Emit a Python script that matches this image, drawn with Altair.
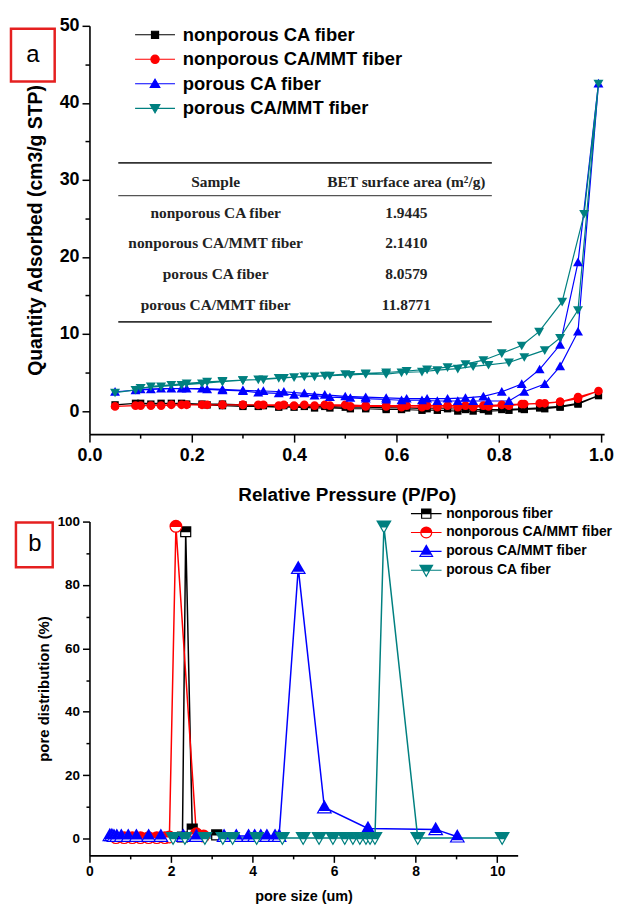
import altair as alt
import pandas as pd

# ---------------- Panel a : N2 isotherms ----------------
series_a = ["nonporous CA fiber", "nonporous CA/MMT fiber", "porous CA fiber", "porous CA/MMT fiber"]
colors_a = ["#000000", "#ff0000", "#0000ff", "#008080"]

p_ads = [0.05, 0.09, 0.12, 0.16, 0.19, 0.23, 0.26, 0.30, 0.33, 0.37, 0.40, 0.44, 0.47, 0.51,
         0.54, 0.58, 0.61, 0.65, 0.68, 0.72, 0.75, 0.78, 0.82, 0.85, 0.89, 0.92, 0.955, 0.995]
p_des = [0.955, 0.92, 0.88, 0.845, 0.806, 0.77, 0.735, 0.70, 0.66, 0.62, 0.58, 0.54, 0.50,
         0.46, 0.42, 0.38, 0.34, 0.30, 0.26, 0.22, 0.18, 0.14, 0.10]
p_des_teal = [0.967, 0.924, 0.879, 0.845, 0.806, 0.77, 0.735, 0.70, 0.66, 0.62, 0.58, 0.54, 0.50,
              0.46, 0.42, 0.38, 0.34, 0.30, 0.26, 0.22, 0.18, 0.14, 0.10]

q_black_ads = [0.8, 1.0, 0.9, 1.0, 0.9, 0.8, 0.7, 0.6, 0.6, 0.5, 0.5, 0.4, 0.4, 0.3, 0.3, 0.2, 0.2,
               0.1, 0.1, 0.0, 0.0, 0.0, 0.1, 0.2, 0.3, 0.5, 0.9, 2.0]
q_black_des = [1.0, 0.6, 0.4, 0.3, 0.2, 0.2, 0.2, 0.3, 0.3, 0.4, 0.4, 0.5, 0.5, 0.6, 0.6, 0.7, 0.7,
               0.8, 0.9, 0.9, 1.0, 1.0, 1.0]
q_red_ads = [0.6, 0.7, 0.7, 0.8, 0.8, 0.8, 0.8, 0.8, 0.8, 0.7, 0.7, 0.7, 0.7, 0.6, 0.6, 0.6, 0.5,
             0.5, 0.5, 0.5, 0.5, 0.6, 0.7, 0.9, 1.0, 1.2, 1.6, 2.6]
q_red_des = [1.8, 1.2, 1.0, 0.9, 0.8, 0.7, 0.7, 0.7, 0.7, 0.7, 0.7, 0.7, 0.8, 0.8, 0.8, 0.8, 0.8,
             0.8, 0.8, 0.8, 0.8, 0.7, 0.7]
q_blue_ads = [2.5, 2.7, 2.8, 2.9, 2.9, 2.8, 2.7, 2.6, 2.4, 2.3, 2.1, 2.0, 1.8, 1.7, 1.6, 1.5, 1.4,
              1.4, 1.3, 1.3, 1.3, 1.3, 1.3, 2.5, 3.5, 5.8, 10.3, 42.5]
q_blue_des = [19.3, 8.6, 5.4, 3.5, 2.5, 1.9, 1.7, 1.6, 1.6, 1.6, 1.7, 1.8, 1.9, 2.1, 2.3, 2.5, 2.6,
              2.7, 2.8, 2.9, 2.9, 2.9, 2.8]
q_teal_ads = [2.4, 2.75, 3.2, 3.4, 3.6, 3.8, 3.9, 4.0, 4.1, 4.3, 4.4, 4.5, 4.6, 4.7, 4.8, 4.8, 5.0,
              5.1, 5.3, 5.5, 5.8, 6.0, 6.3, 7.0, 7.9, 9.5, 13.1, 42.5]
q_teal_des = [25.6, 14.2, 10.3, 8.5, 7.5, 6.6, 6.1, 5.7, 5.4, 5.2, 5.0, 4.9, 4.8, 4.6, 4.5, 4.3,
              4.1, 4.0, 3.8, 3.6, 3.4, 3.2, 3.0]

table_col1 = ["Sample", "nonporous CA fiber", "nonporous CA/MMT fiber", "porous CA fiber", "porous CA/MMT fiber"]
table_col2 = ["BET surface area (m²/g)", "1.9445", "2.1410", "8.0579", "11.8771"]

# ---------------- Panel b : pore size distribution ----------------
series_b = ["nonporous fiber", "nonporous CA/MMT fiber", "porous CA/MMT fiber", "porous CA fiber"]
colors_b = ["#000000", "#ff0000", "#0000ff", "#008080"]

x_black = [2.28, 2.36, 2.52, 3.12]
y_black = [0.5, 96.8, 3.0, 1.2]
x_red = [0.65, 0.85, 1.05, 1.25, 1.45, 1.65, 1.85, 1.96, 2.12, 2.62, 2.8]
y_red = [0.3, 0.3, 0.3, 0.3, 0.3, 0.3, 0.3, 0.5, 98.5, 1.5, 0.8]
x_blue = [0.5, 0.55, 0.6, 0.67, 0.78, 0.95, 1.15, 1.45, 1.75, 2.3, 2.62, 3.3, 3.6, 3.9, 4.05, 4.2,
          4.35, 4.55, 4.65, 5.12, 5.76, 6.83, 8.49, 9.02]
y_blue = [1.0, 1.0, 0.8, 0.8, 0.8, 0.8, 0.8, 0.8, 0.8, 0.8, 0.8, 0.8, 0.8, 0.8, 0.8, 0.8,
          0.8, 0.8, 0.8, 85.3, 9.8, 3.2, 2.9, 0.6]
x_teal = [2.05, 2.34, 2.83, 3.27, 3.51, 4.1, 4.73, 5.24, 5.63, 5.97, 6.26, 6.46, 6.63, 6.78, 6.88,
          7.0, 7.22, 8.05, 10.12]
y_teal = [0.2, 0.2, 0.2, 0.2, 0.2, 0.2, 0.2, 0.2, 0.2, 0.2, 0.2, 0.2, 0.2, 0.2, 0.2,
          0.2, 98.5, 0.2, 0.2]

# ---------------- build tables ----------------
rows = []
for name, qa, pd_, qd in [
    (series_a[0], q_black_ads, p_des, q_black_des),
    (series_a[1], q_red_ads, p_des, q_red_des),
    (series_a[2], q_blue_ads, p_des, q_blue_des),
    (series_a[3], q_teal_ads, p_des_teal, q_teal_des),
]:
    i = 0
    for p, q in zip(p_ads, qa):
        rows.append({"series": name, "P": p, "Q": q, "idx": i}); i += 1
    for p, q in zip(pd_, qd):
        rows.append({"series": name, "P": p, "Q": q, "idx": i}); i += 1
df_a = pd.DataFrame(rows)

rows_b = []
for name, xs, ys in zip(series_b, [x_black, x_red, x_blue, x_teal], [y_black, y_red, y_blue, y_teal]):
    for i, (x, y) in enumerate(zip(xs, ys)):
        rows_b.append({"series": name, "size": x, "pct": y, "idx": i})
df_b = pd.DataFrame(rows_b)

df_tab = pd.DataFrame({"row": list(range(len(table_col1))), "c1": table_col1, "c2": table_col2})
df_leg_a = pd.DataFrame({"series": series_a})
df_leg_b = pd.DataFrame({"series": series_b})

# ---------------- marker paths ----------------
def fmt(v):
    return ("%.3f" % v).rstrip("0").rstrip(".")

sq = "M-0.85,-0.85H0.85V0.85H-0.85Z"
circ = "M-1,0A1,1 0 1,0 1,0A1,1 0 1,0 -1,0Z"
tri_up = "M0,-1.1L1.15,0.9H-1.15Z"
tri_dn = "M-1.15,-0.9H1.15L0,1.1Z"

def hatch(ys, halfw):
    return "".join("M%s,%sH%s" % (fmt(-halfw(y)), fmt(y), fmt(halfw(y))) for y in ys)

half_sq = sq + hatch([-0.85, -0.7, -0.55, -0.4, -0.25, -0.1, 0.0], lambda y: 0.85)
half_circ = circ + hatch([-0.9, -0.75, -0.6, -0.45, -0.3, -0.15, 0.0], lambda y: max(0.0, 1 - y * y) ** 0.5)
half_up = tri_up + hatch([-0.95, -0.8, -0.65, -0.5, -0.35, -0.2, -0.05, 0.1, 0.25, 0.4, 0.5],
                         lambda y: 1.15 * (y + 1.1) / 2.0)
half_dn = tri_dn + hatch([-0.9, -0.75, -0.6, -0.45, -0.3, -0.15, 0.0, 0.1], lambda y: 1.15 * (1.1 - y) / 2.0)

shapes_a = [sq, circ, tri_up, tri_dn]
legend_paths_a = ["M-4.8,0H4.8" + s for s in shapes_a]
shapes_b = [half_sq, half_circ, half_up, half_dn]
legend_paths_b = ["M-2.8,0H2.8" + s for s in shapes_b]

SANS = "Liberation Sans"
SERIF = "Liberation Serif"

def axis(values, label_test, minor_test, lsize, tsize, lpad, major, minor, title_pad):
    return alt.Axis(
        values=values, labelExpr="(%s) ? datum.label : ''" % label_test,
        tickSize={"condition": {"test": minor_test, "value": minor}, "value": major},
        grid=False, domainColor="black", domainWidth=1.6, tickColor="black", tickWidth=1.5,
        labelFont=SANS, labelFontWeight="bold", labelFontSize=lsize, labelColor="black",
        labelPadding=lpad, labelFlush=False, labelOverlap=False,
        titleFont=SANS, titleFontWeight="bold", titleFontSize=tsize, titleColor="black",
        titlePadding=title_pad,
    )

one = pd.DataFrame({"k": [0]})

# ---------------- panel a ----------------
xa_vals = [round(i * 0.1, 1) for i in range(11)]
ya_vals = list(range(0, 51, 5))
xa = alt.X("P:Q", title="Relative Pressure (P/Po)",
           scale=alt.Scale(domain=[0, 1.006], nice=False, zero=False),
           axis=axis(xa_vals, "round(datum.value*10) % 2 == 0", "round(datum.value*10) % 2 != 0",
                     18, 19, 5, 8, 4, 21))
ya = alt.Y("Q:Q", title="Quantity Adsorbed (cm3/g STP)",
           scale=alt.Scale(domain=[-3, 50], nice=False, zero=False),
           axis=axis(ya_vals, "datum.value % 10 == 0", "datum.value % 10 != 0",
                     18, 19.5, 3, 7.5, 4.5, 14))

lines_a = alt.Chart(df_a).mark_line(strokeWidth=1.2).encode(
    x=xa, y=ya,
    color=alt.Color("series:N", scale=alt.Scale(domain=series_a, range=colors_a), legend=None),
    detail="series:N", order="idx:Q")

pts_a = [
    alt.Chart(df_a).transform_filter(alt.datum.series == s).mark_point(
        shape=shp, size=76, filled=True, color=c, opacity=1, strokeWidth=0).encode(x=xa, y=ya)
    for s, c, shp in zip(series_a, colors_a, shapes_a)
]
data_a = alt.layer(lines_a, *pts_a)

# legend a (rows placed by a point scale)
leg_y_a = alt.Y("series:N", scale=alt.Scale(domain=series_a, range=[9, 83], padding=0), axis=None)
leg_sym_a = alt.Chart(df_leg_a).mark_point(filled=True, opacity=1, strokeWidth=1.2, size=70).encode(
    x=alt.value(66), y=leg_y_a,
    fill=alt.Fill("series:N", scale=alt.Scale(domain=series_a, range=colors_a), legend=None),
    stroke=alt.Stroke("series:N", scale=alt.Scale(domain=series_a, range=colors_a), legend=None),
    shape=alt.Shape("series:N", scale=alt.Scale(domain=series_a, range=legend_paths_a), legend=None))
leg_txt_a = alt.Chart(df_leg_a).mark_text(
    align="left", baseline="middle", font=SANS, fontSize=18.5, fontWeight="bold", color="black").encode(
    x=alt.value(94), y=leg_y_a, text="series:N")

row_y = alt.Y("row:O", scale=alt.Scale(range=[157, 281], padding=0), axis=None)
tab1 = alt.Chart(df_tab).mark_text(font=SERIF, fontWeight="bold", fontSize=15.5, color="#222222").encode(
    x=alt.value(127), y=row_y, text="c1:N")
tab2 = alt.Chart(df_tab).mark_text(font=SERIF, fontWeight="bold", fontSize=15.5, color="#222222").encode(
    x=alt.value(319), y=row_y, text="c2:N")
rule_top = alt.Chart(one).mark_rule(color="#333333", strokeWidth=1.8).encode(
    x=alt.value(29), x2=alt.value(405), y=alt.value(138))
rule_mid = alt.Chart(one).mark_rule(color="#555555", strokeWidth=1.2).encode(
    x=alt.value(29), x2=alt.value(405), y=alt.value(171))
rule_bot = alt.Chart(one).mark_rule(color="#333333", strokeWidth=1.8).encode(
    x=alt.value(29), x2=alt.value(405), y=alt.value(298))
box_a = alt.Chart(one).mark_rect(fill="white", stroke="#e52020", strokeWidth=2.5).encode(
    x=alt.value(-79), x2=alt.value(-35), y=alt.value(3), y2=alt.value(56))
lab_a = alt.Chart(one).mark_text(font=SANS, fontSize=24, color="black", baseline="middle").encode(
    x=alt.value(-57), y=alt.value(29), text=alt.value("a"))

panel_a = alt.layer(data_a, leg_sym_a, leg_txt_a, tab1, tab2, rule_top, rule_mid, rule_bot,
                    box_a, lab_a).resolve_scale(y="independent").properties(width=518, height=411)

# ---------------- panel b ----------------
xb_vals = list(range(0, 11))
yb_vals = list(range(0, 101, 10))
xb = alt.X("size:Q", title="pore size (um)",
           scale=alt.Scale(domain=[0, 10.5], nice=False, zero=False),
           axis=axis(xb_vals, "datum.value % 2 == 0", "datum.value % 2 != 0",
                     14, 14.5, 2, 7, 3.5, 11))
yb = alt.Y("pct:Q", title="pore distribution (%)",
           scale=alt.Scale(domain=[-5.3, 100], nice=False, zero=False),
           axis=axis(yb_vals, "datum.value % 20 == 0", "datum.value % 20 != 0",
                     13.5, 15, 3, 7, 3.5, 6))

lines_b = alt.Chart(df_b).mark_line(strokeWidth=1.5).encode(
    x=xb, y=yb,
    color=alt.Color("series:N", scale=alt.Scale(domain=series_b, range=colors_b), legend=None),
    detail="series:N", order="idx:Q")

pts_b = [
    alt.Chart(df_b).transform_filter(alt.datum.series == s).mark_point(
        shape=shp, size=140, fill="white", stroke=c, strokeWidth=1.2, opacity=1,
        fillOpacity=1).encode(x=xb, y=yb)
    for s, c, shp in zip(series_b, colors_b, shapes_b)
]
data_b = alt.layer(lines_b, *pts_b)

leg_y_b = alt.Y("series:N", scale=alt.Scale(domain=series_b, range=[-8, 49], padding=0), axis=None)
leg_sym_b = alt.Chart(df_leg_b).mark_point(fill="white", opacity=1, strokeWidth=1.2, size=121).encode(
    x=alt.value(339), y=leg_y_b,
    stroke=alt.Stroke("series:N", scale=alt.Scale(domain=series_b, range=colors_b), legend=None),
    shape=alt.Shape("series:N", scale=alt.Scale(domain=series_b, range=legend_paths_b), legend=None))
leg_txt_b = alt.Chart(df_leg_b).mark_text(
    align="left", baseline="middle", font=SANS, fontSize=14, fontWeight="bold", color="black").encode(
    x=alt.value(359), y=leg_y_b, text="series:N")

box_b = alt.Chart(one).mark_rect(fill="white", stroke="#e52020", strokeWidth=2.5).encode(
    x=alt.value(-74), x2=alt.value(-37), y=alt.value(1), y2=alt.value(46))
lab_b = alt.Chart(one).mark_text(font=SANS, fontSize=24, color="black", baseline="middle").encode(
    x=alt.value(-55), y=alt.value(23), text=alt.value("b"))

panel_b = alt.layer(data_b, leg_sym_b, leg_txt_b, box_b, lab_b).resolve_scale(
    y="independent").properties(width=431, height=336)

chart = alt.vconcat(panel_a, panel_b, spacing=88, bounds="flush").resolve_scale(
    color="independent", fill="independent", stroke="independent", shape="independent"
).properties(
    padding={"left": 1, "top": 6, "right": 5, "bottom": 0}
).configure_view(stroke=None)

chart.save("out.html", embed_options={"renderer": "svg", "actions": False})
